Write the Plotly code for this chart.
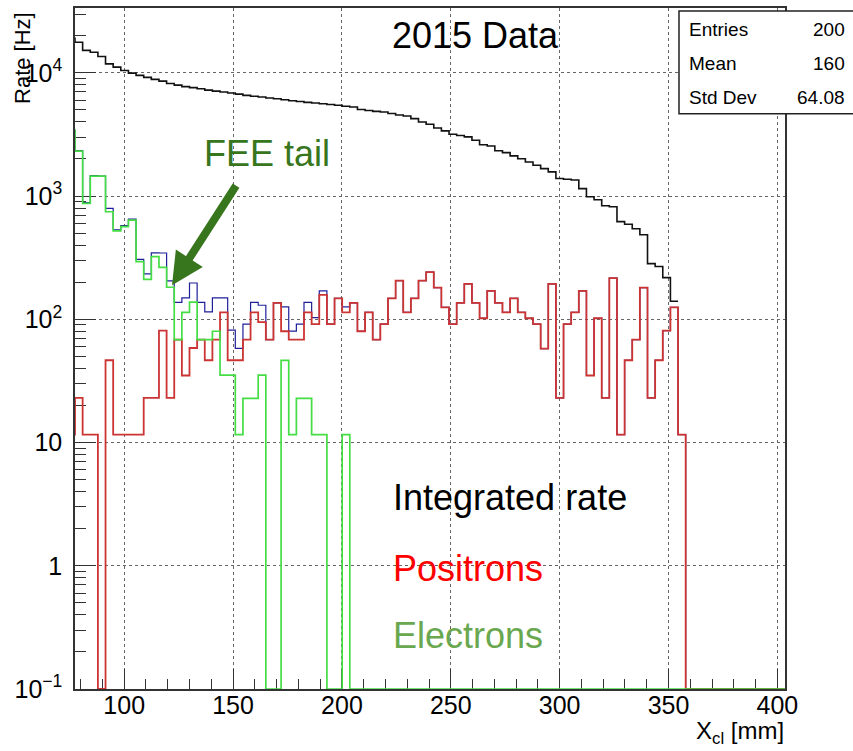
import plotly.graph_objects as go

# ---------------- data ----------------
bin_low = 73.894      # lower edge of first bin (partly left of the axis)
bin_width = 3.506     # mm
n_bins = 94

# Integrated rate (black), bins -1 .. 78
integrated = [
    19100, 17700, 15200, 14700, 13580, 11830, 11120, 10450, 9950, 9530,
    9180, 8850, 8570, 8180, 7950, 7730, 7590, 7430, 7240, 7110,
    6980, 6850, 6720, 6560, 6450, 6360, 6240, 6160, 6050, 5930,
    5850, 5760, 5690, 5610, 5530, 5450, 5360, 5280, 5040, 4940,
    4870, 4810, 4680, 4550, 4460, 4250, 3990, 3830, 3570, 3380,
    3170, 3100, 3020, 2840, 2610, 2550, 2330, 2250, 2120, 2010,
    1890, 1780, 1670, 1570, 1390, 1370, 1350, 1150, 986, 933,
    835, 819, 620, 591, 543, 486, 283, 268, 218, 140,
]

# Positrons (red)
positrons = [
    11.6, 23.0, 11.6, 11.6, 0, 46.5, 11.6, 11.6, 11.6, 11.6,
    23.0, 23.0, 81.0, 23.0, 68.5, 35.0, 58.5, 68.5, 46.5, 68.5,
    114, 46.5, 46.5, 68.5, 114, 95, 68.5, 136, 80, 68.5,
    68.5, 114, 91.4, 158, 91.4, 148, 114, 136, 80, 114,
    68.5, 91.4, 148, 206, 114, 148, 206, 241, 181, 125,
    91.4, 136, 194, 136, 102, 170, 136, 114, 148, 114,
    102, 91.4, 57.8, 194, 23.0, 91.4, 114, 170, 35.0, 102,
    23.0, 216, 11.6, 46.5, 68.5, 181, 23.0, 46.5, 81.0, 125,
    11.6, 0, 0, 0, 0, 0, 0, 0, 0, 0,
    0, 0, 0, 0,
]

# Electrons (green)
electrons = [
    3420, 2312, 871, 1452, 1452, 746, 521, 564, 639, 294,
    211, 323, 264, 182, 68.5, 114, 138, 68.5, 68.5, 80,
    35.2, 35.2, 11.6, 22.8, 22.8, 35.2, 0, 0, 46.4, 11.6,
    22.8, 22.8, 11.6, 11.6, 0, 0, 11.6, 0, 0, 0,
    0, 0, 0, 0, 0, 0, 0, 0, 0, 0,
    0, 0, 0, 0, 0, 0, 0, 0, 0, 0,
    0, 0, 0, 0, 0, 0, 0, 0, 0, 0,
    0, 0, 0, 0, 0, 0, 0, 0, 0, 0,
    0, 0, 0, 0, 0, 0, 0, 0, 0, 0,
    0, 0, 0, 0,
]

# Electrons + positrons (blue)
total = [
    3432, 2335, 883, 1464, 1452, 793, 533, 576, 651, 306,
    234, 346, 345, 205, 137, 149, 197, 137, 115, 149,
    149, 81.7, 58.1, 91.3, 137, 130, 68.5, 136, 126, 80.1,
    91.3, 137, 103, 170, 91.4, 148, 126, 136, 80, 114,
    68.5, 91.4, 148, 206, 114, 148, 206, 241, 181, 125,
    91.4, 136, 194, 136, 102, 170, 136, 114, 148, 114,
    102, 91.4, 57.8, 194, 23.0, 91.4, 114, 170, 35.0, 102,
    23.0, 216, 11.6, 46.5, 68.5, 181, 23.0, 46.5, 81.0, 125,
    11.6, 0, 0, 0, 0, 0, 0, 0, 0, 0,
    0, 0, 0, 0,
]

x_range = [77.4, 403.5]
y_log_range = [-1, 4.526]
x_tickvals = [100, 150, 200, 250, 300, 350, 400]
y_tickvals = [0.1, 1, 10, 100, 1000, 10000]
y_ticktext = ["10<sup>\u22121</sup>", "1", "10", "10<sup>2</sup>", "10<sup>3</sup>", "10<sup>4</sup>"]
stats_names = ["Entries", "Mean", "Std Dev"]
stats_values = ["200", "160", "64.08"]

# ---------------- figure ----------------
W, H = 853, 751
ML, MR, MT, MB = 75, 68, 6, 62
PW, PH = W - ML - MR, H - MT - MB


def xp(px):
    return (px - ML) / PW


def yp(py):
    return (H - MB - py) / PH


edges = [bin_low + k * bin_width for k in range(n_bins + 1)]
y_floor = 10 ** y_log_range[0]


def step(vals):
    ys = [v if v > 0 else y_floor for v in vals]
    xs = edges[:len(vals) + 1]
    return xs, ys + [ys[-1]]


fig = go.Figure()
for vals, col, lw in [(integrated, "#111111", 1.6), (total, "#1f1f9a", 1.2),
                      (positrons, "#cc3333", 1.8), (electrons, "#44dd44", 1.7)]:
    xs, ys = step(vals)
    fig.add_trace(go.Scatter(x=xs, y=ys, mode="lines", line_shape="hv",
                             line=dict(color=col, width=lw),
                             showlegend=False, hoverinfo="skip"))

FONT = "Liberation Sans, Arial, Helvetica, sans-serif"
minor_y = [k * 10 ** d for d in range(-1, 5) for k in range(2, 10) if k * 10 ** d < 33000]

fig.update_layout(
    width=W, height=H,
    margin=dict(l=ML, r=MR, t=MT, b=MB),
    paper_bgcolor="white", plot_bgcolor="white",
    font=dict(family=FONT, color="black", size=25),
    showlegend=False,
    xaxis=dict(
        range=x_range, tickmode="array", tickvals=x_tickvals,
        ticks="inside", ticklen=20, tickcolor="#333", tickwidth=1,
        minor=dict(tickmode="linear", tick0=0, dtick=10, ticks="inside",
                   ticklen=10, tickcolor="#333", showgrid=False),
        showgrid=True, gridcolor="#666", griddash="dot", gridwidth=1,
        showline=True, mirror=True, linecolor="#333", linewidth=1.5,
        zeroline=False, tickfont=dict(size=25, family=FONT),
        ticklabelstandoff=-7, layer="below traces",
    ),
    yaxis=dict(
        type="log", range=y_log_range, tickmode="array",
        tickvals=y_tickvals, ticktext=y_ticktext,
        ticks="inside", ticklen=21, tickcolor="#333", tickwidth=1,
        minor=dict(tickmode="array", tickvals=minor_y, ticks="inside",
                   ticklen=11, tickcolor="#333", showgrid=False),
        showgrid=True, gridcolor="#666", griddash="dot", gridwidth=1,
        showline=True, mirror=True, linecolor="#333", linewidth=1.5,
        zeroline=False, tickfont=dict(size=25, family=FONT),
        ticklabelstandoff=6, layer="below traces",
    ),
)

# stats box
fig.add_shape(type="rect", xref="paper", yref="paper",
              x0=xp(679), x1=xp(870), y0=yp(112), y1=yp(9),
              fillcolor="white", line=dict(color="#222", width=1.5), layer="above")
for i, (nm, val) in enumerate(zip(stats_names, stats_values)):
    yc = 27.5 + 34 * i
    fig.add_annotation(xref="paper", yref="paper", x=xp(687), y=yp(yc),
                       text=nm, showarrow=False, xanchor="left", yanchor="middle",
                       font=dict(size=19, family=FONT, color="black"))
    fig.add_annotation(xref="paper", yref="paper", x=xp(847), y=yp(yc),
                       text=val, showarrow=False, xanchor="right", yanchor="middle",
                       font=dict(size=19, family=FONT, color="black"))

big = 36
labels = [
    ("2015 Data", 390, 34, "black"),
    ("FEE tail", 202, 152, "#38761d"),
    ("Integrated rate", 391, 497, "black"),
    ("Positrons", 391, 568, "#ff0000"),
    ("Electrons", 391, 635, "#6aa84f"),
]
for txt, px, py, col in labels:
    fig.add_annotation(xref="paper", yref="paper", x=xp(px), y=yp(py),
                       text=txt, showarrow=False, xanchor="left", yanchor="middle",
                       font=dict(size=big, family=FONT, color=col))

# arrow for FEE tail
fig.add_annotation(xref="paper", yref="paper", x=xp(172), y=yp(284),
                   ax=237 - 172, ay=183 - 284, axref="pixel", ayref="pixel",
                   text="", showarrow=True, arrowhead=2, arrowsize=0.8,
                   arrowwidth=8, arrowcolor="#38761d", standoff=0)

# axis titles
fig.add_annotation(xref="paper", yref="paper", x=xp(786), y=yp(733),
                   text="X<sub>cl</sub> [mm]", showarrow=False,
                   xanchor="right", yanchor="middle",
                   font=dict(size=24, family=FONT, color="black"))
fig.add_annotation(xref="paper", yref="paper", x=xp(23), y=yp(8),
                   text="Rate [Hz]", textangle=-90, showarrow=False,
                   xanchor="center", yanchor="top",
                   font=dict(size=22, family=FONT, color="black"))

fig.write_html("out.html")
